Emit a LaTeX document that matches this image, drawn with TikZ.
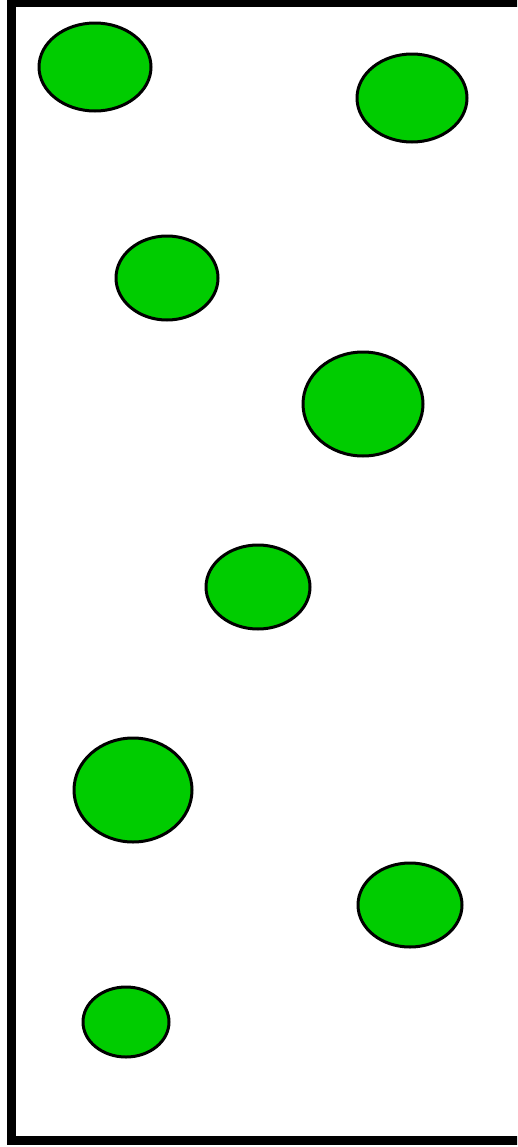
\documentclass[tikz,border=0pt]{standalone}
\usetikzlibrary{shapes.geometric}
\definecolor{leafgreen}{RGB}{0,204,0}
\tikzset{
    blob/.style={ellipse, draw, fill=leafgreen, line width=0.15cm, inner sep=0pt},
    frame/.style={draw, line width=0.42cm}
}

\begin{document}
\begin{tikzpicture}[x=0.05cm, y=-0.05cm]
    \useasboundingbox (0,0) rectangle (517,1147);
    \clip (0,0) rectangle (517,1147);
    % container
    \draw[frame] (11.5,2.5) rectangle (530,1140.5);

    % cells
    \node[blob, minimum width=5.6cm, minimum height=4.4cm] (c1) at (95,67) {};
    \node[blob, minimum width=5.5cm, minimum height=4.4cm] (c2) at (412,98) {};
    \node[blob, minimum width=5.1cm, minimum height=4.2cm] (c3) at (167,278) {};
    \node[blob, minimum width=6.0cm, minimum height=5.2cm] (c4) at (363,404) {};
    \node[blob, minimum width=5.2cm, minimum height=4.2cm] (c5) at (258,587) {};
    \node[blob, minimum width=5.9cm, minimum height=5.2cm] (c6) at (133,790) {};
    \node[blob, minimum width=5.2cm, minimum height=4.2cm] (c7) at (410,905) {};
    \node[blob, minimum width=4.3cm, minimum height=3.5cm] (c8) at (126,1022) {};
\end{tikzpicture}
\end{document}
